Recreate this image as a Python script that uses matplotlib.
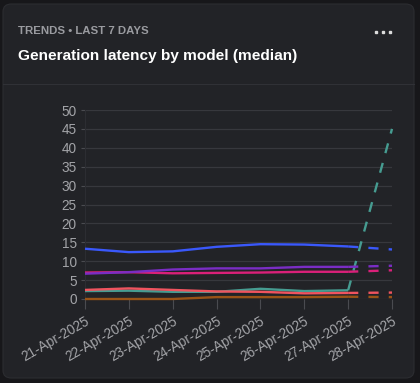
import matplotlib.pyplot as plt
from matplotlib.patches import FancyBboxPatch
from matplotlib.lines import Line2D

plt.rcParams['font.family'] = ['Liberation Sans', 'DejaVu Sans']

# Chart data (median latency, seconds)
dates = ['21-Apr-2025', '22-Apr-2025', '23-Apr-2025', '24-Apr-2025',
         '25-Apr-2025', '26-Apr-2025', '27-Apr-2025', '28-Apr-2025']
blue_vals = [13.3, 12.4, 12.6, 13.8, 14.5, 14.4, 13.9, 13.1]
purple_vals = [6.7, 7.1, 7.8, 8.1, 8.1, 8.5, 8.5, 8.8]
magenta_vals = [7.0, 7.1, 6.8, 6.9, 7.0, 7.2, 7.2, 7.6]
red_vals = [2.4, 2.8, 2.4, 2.0, 1.9, 1.5, 1.6, 1.7]
teal_vals = [2.1, 2.2, 1.9, 1.9, 2.7, 2.1, 2.3, 45.0]
orange_vals = [0.0, 0.0, 0.0, 0.5, 0.5, 0.5, 0.6, 0.5]

series = [
    (orange_vals, '#9a5316'),
    (teal_vals, '#469c91'),
    (red_vals, '#f0545f'),
    (magenta_vals, '#d92079'),
    (purple_vals, '#7a2dc4'),
    (blue_vals, '#3a58fb'),
]

W, H = 420, 383
fig = plt.figure(figsize=(W / 100, H / 100), dpi=100)
fig.patch.set_facecolor('#17171a')

# card background
card = FancyBboxPatch((3 / W, 5 / H), 411 / W, 374 / H,
                      boxstyle='round,pad=0,rounding_size=0.02',
                      transform=fig.transFigure, facecolor='#222327',
                      edgecolor='#2c2d31', linewidth=0.8, zorder=-10)
fig.patches.append(card)
fig.add_artist(Line2D([3 / W, 414 / W], [1 - 84 / H, 1 - 84 / H],
                      transform=fig.transFigure, color='#303136', lw=0.8,
                      zorder=-5))

fig.text(18 / W, 1 - 31 / H, 'TRENDS \u2022 LAST 7 DAYS', color='#9a9ba0',
         fontsize=8.2, fontweight='bold', va='center', ha='left')
fig.text(18 / W, 1 - 56 / H, 'Generation latency by model (median)',
         color='#ffffff', fontsize=11.1, fontweight='bold', va='center', ha='left')
fig.add_artist(Line2D([376 / W, 383 / W, 390 / W], [1 - 32 / H] * 3,
                      transform=fig.transFigure, lw=0, marker='s',
                      markersize=1.5, color='#dcdcdc'))

ax = fig.add_axes([85 / W, (H - 299) / H, (392 - 85) / W, (299 - 110) / H])
ax.set_facecolor('none')

x = list(range(len(dates)))
for vals, color in series:
    ax.plot(x[:-1], vals[:-1], color=color, lw=1.7, solid_capstyle='butt',
            clip_on=False, zorder=3)
    ax.plot(x[-2:], vals[-2:], color=color, lw=1.7, dashes=(4.3, 4.3),
            clip_on=False, zorder=3)

ax.set_xlim(0, len(dates) - 1)
ax.set_ylim(0, 50)
ax.set_yticks(range(0, 51, 5))
ax.set_xticks(x)
ax.set_xticklabels(dates, rotation=30, ha='right', rotation_mode='anchor')

ax.grid(axis='y', color='#37383d', lw=0.9)
ax.set_axisbelow(True)
for side in ['top', 'right', 'bottom']:
    ax.spines[side].set_visible(False)
ax.spines['left'].set_color('#2c2d32')
ax.spines['left'].set_linewidth(0.8)

ax.tick_params(axis='y', colors='#4a4b50', labelcolor='#a3a4a8',
               labelsize=9.8, length=3, width=0.8, pad=3)
ax.tick_params(axis='x', colors='#4a4b50', labelcolor='#a3a4a8',
               labelsize=9.8, length=7, width=0.8, pad=4)

fig.savefig('out.png', dpi=100, facecolor=fig.get_facecolor())
